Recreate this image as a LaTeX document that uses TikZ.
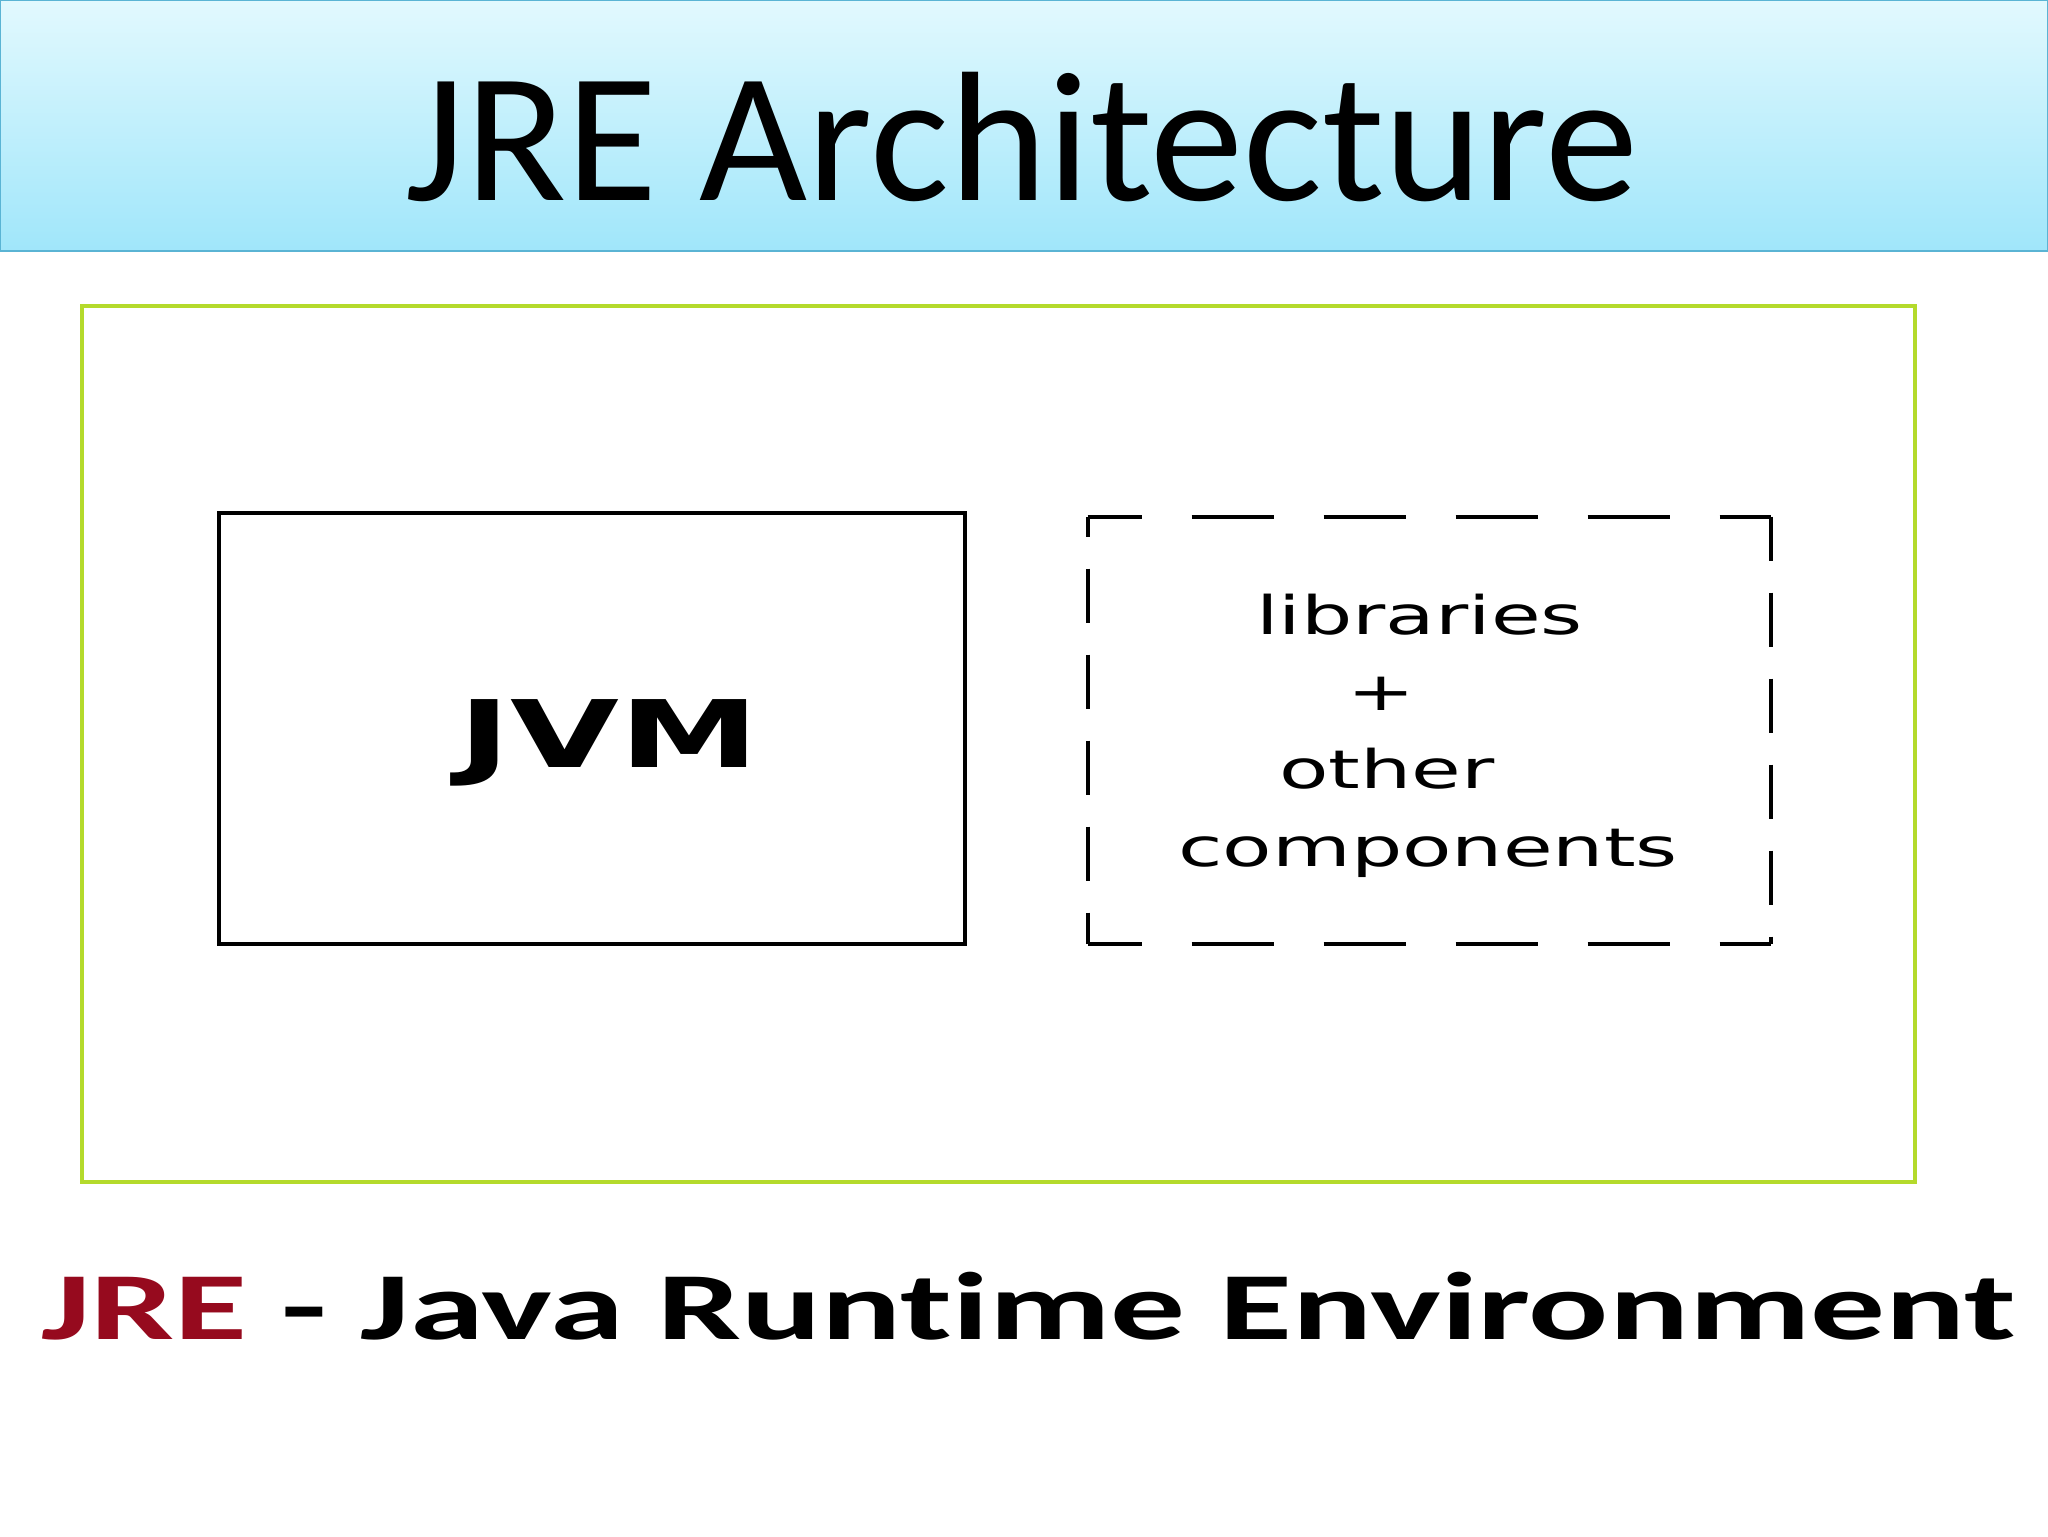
\documentclass[tikz,border=0pt]{standalone}
\usepackage{fontspec}
\usepackage{graphicx}
\newfontfamily\carlito{Carlito}
\newfontfamily\carlitonl[Ligatures={NoCommon}]{Carlito}
\newfontfamily\dejavu{DejaVu Sans}
\definecolor{bandtop}{RGB}{226,249,254}
\definecolor{bandbot}{RGB}{160,230,250}
\definecolor{bandline}{RGB}{90,180,212}
\definecolor{jregreen}{RGB}{180,218,44}
\definecolor{jrered}{RGB}{150,10,30}
\tikzset{
  boxline/.style={line width=2pt},
  plainbox/.style={draw=black, boxline, rectangle, inner sep=0pt},
  libtext/.style={inner sep=0pt, font=\dejavu\fontsize{26.6}{30}\selectfont},
}
\begin{document}
\begin{tikzpicture}[x=0.5pt,y=-0.5pt]
\useasboundingbox (0,0) rectangle (2048,1536);
\fill[white] (0,0) rectangle (2048,1536);
% title band
\shade[top color=bandtop, bottom color=bandbot] (0,0) rectangle (2048,251);
\draw[bandline, line width=0.8pt] (0.5,0.5) rectangle (2047.5,251);
\node[anchor=base, inner sep=0pt, font=\carlito\fontsize{92.4}{100}\selectfont] (title) at (1022,200) {\scalebox{1.01}[1]{JRE Architecture}};
% outer JRE box
\node[draw=jregreen, line width=2pt, rectangle, inner sep=0pt, minimum width=916.5pt, minimum height=438pt] (jre) at (998.5,744) {};
% JVM box
\node[plainbox, minimum width=373pt, minimum height=215.5pt] (jvm) at (592,728.5) {};
\node[anchor=base, inner sep=0pt] (jvmtext) at (609,767) {\scalebox{1.51}[1]{\dejavu\bfseries\fontsize{46.6}{50}\selectfont JVM}};
% dashed box
\node[rectangle, inner sep=0pt, minimum width=341.5pt, minimum height=213.5pt] (libs) at (1429.5,730.5) {};
\draw[boxline, dash pattern=on 41pt off 25pt, dash phase=14pt] (libs.north west) -- (libs.north east);
\draw[boxline, dash pattern=on 41pt off 25pt, dash phase=14pt] (libs.south west) -- (libs.south east);
\draw[boxline, dash pattern=on 27pt off 16pt, dash phase=17pt] (libs.north west) -- (libs.south west);
\draw[boxline, dash pattern=on 27pt off 16pt, dash phase=5pt] (libs.north east) -- (libs.south east);
\node[libtext, anchor=base west] (lib1) at (1256,634) {\scalebox{1.52}[1]{libraries}};
\node[libtext, anchor=base] (lib2) at (1381,710) {\scalebox{1.52}[1]{+}};
\node[libtext, anchor=base west] (lib3) at (1279,788) {\scalebox{1.52}[1]{other}};
\node[libtext, anchor=base west] (lib4) at (1178,866) {\scalebox{1.52}[1]{components}};
% caption
\node[anchor=base west, inner sep=0pt] (caption) at (41,1339) {\scalebox{1.555}[1]{\carlitonl\bfseries\fontsize{48}{52}\selectfont\textcolor{jrered}{JRE} - Java Runtime Environment}};
\end{tikzpicture}
\end{document}
